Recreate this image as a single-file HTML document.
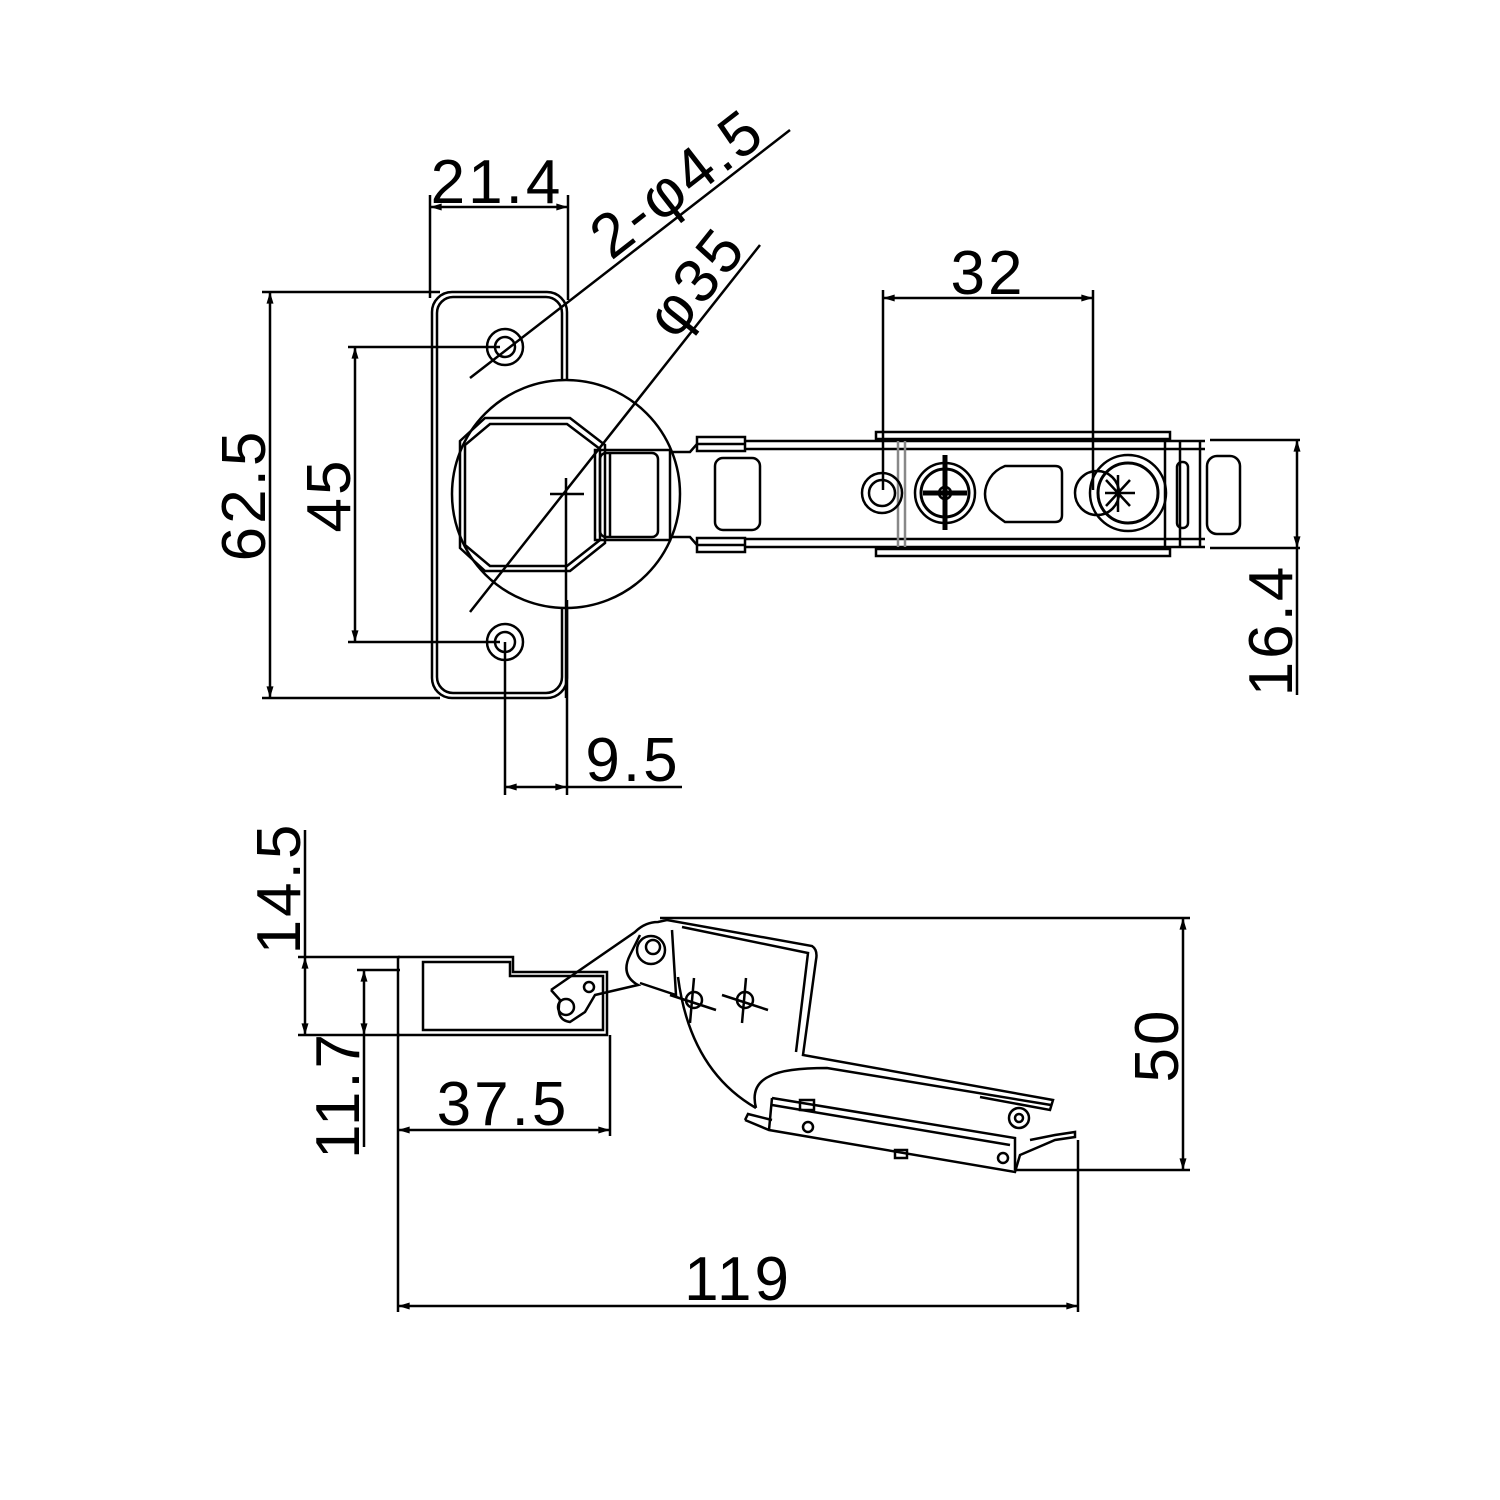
<!DOCTYPE html>
<html><head><meta charset="utf-8"><style>
html,body{margin:0;padding:0;background:#fff}
svg{display:block}
text{font-family:"Liberation Sans",sans-serif;font-size:62px;fill:#000;letter-spacing:3px}
</style></head><body>
<svg width="1500" height="1500" viewBox="0 0 1500 1500" xmlns="http://www.w3.org/2000/svg">
<defs>
<marker id="a" viewBox="0 0 10 6" refX="10" refY="3" markerWidth="14" markerHeight="7" markerUnits="userSpaceOnUse" orient="auto-start-reverse"><path d="M0,0L10,3L0,6z" fill="#000"/></marker>
</defs>
<g fill="none" stroke="#000" stroke-width="2.5">
<!-- plate -->
<rect x="432" y="292" width="135" height="406" rx="20"/>
<rect x="437" y="297" width="125" height="396" rx="16"/>
<circle cx="505" cy="347" r="18"/><circle cx="505" cy="347" r="10"/>
<circle cx="505" cy="642" r="18"/><circle cx="505" cy="642" r="10"/>
<!-- cup -->
<circle cx="566" cy="494" r="114" fill="#fff"/>
<polygon points="485,418 570,418 605,445 605,543 570,571 485,571 460,548 460,441"/>
<polygon points="490,424 567,424 600,449 600,540 567,566 490,566 465,545 465,445"/>
<line x1="566" y1="478" x2="566" y2="698"/><line x1="550" y1="494" x2="584" y2="494"/>
<!-- bracket -->
<rect x="595" y="450" width="75" height="90"/>
<rect x="600" y="453" width="58" height="84" rx="6"/>
<line x1="610" y1="453" x2="610" y2="537"/>
<path d="M670 452 L690 452 L697 444 L745 444 M670 537 L690 537 L697 545 L745 545"/>
<rect x="697" y="437" width="48" height="14"/><rect x="697" y="538" width="48" height="14"/>
<rect x="715" y="458" width="45" height="72" rx="8"/>
<!-- arm -->
<line x1="745" y1="441" x2="1205" y2="441"/><line x1="745" y1="547" x2="1205" y2="547"/>
<line x1="745" y1="449" x2="1205" y2="449"/><line x1="745" y1="539" x2="1205" y2="539"/>
<rect x="876" y="432" width="294" height="7" stroke-width="2.5"/>
<rect x="876" y="549" width="294" height="7" stroke-width="2.5"/>
<line x1="898" y1="441" x2="898" y2="547" stroke="#888"/><line x1="905" y1="441" x2="905" y2="547" stroke="#888"/>
<line x1="1165" y1="441" x2="1165" y2="547"/><line x1="1180" y1="441" x2="1180" y2="547"/><line x1="1200" y1="441" x2="1200" y2="547"/>
<path d="M1210 440 L1300 440 M1210 548 L1300 548"/>
<rect x="1207" y="456" width="33" height="78" rx="10"/>
<circle cx="882" cy="493" r="20"/><circle cx="882" cy="493" r="13"/>
<circle cx="945" cy="493" r="30"/><circle cx="945" cy="493" r="24" stroke-width="3"/><circle cx="945" cy="493" r="6"/>
<line x1="945" y1="455" x2="945" y2="530" stroke-width="5"/><line x1="923" y1="493" x2="967" y2="493" stroke-width="5"/>
<path d="M1005 466 L1055 466 Q1062 466 1062 473 L1062 515 Q1062 522 1055 522 L1005 522 Q995 515 990 510 Q980 494 990 478 Q995 470 1005 466z"/>
<circle cx="1128" cy="493" r="38"/><circle cx="1128" cy="493" r="30" stroke-width="3"/><circle cx="1097" cy="493" r="22"/>
<path d="M1118 475 L1118 512 M1105 493 L1135 493 M1106 480 L1130 506 M1106 506 L1130 480"/>
<rect x="1177" y="462" width="11" height="66" rx="5"/>
<!-- top dims -->
<line x1="430" y1="195" x2="430" y2="298"/><line x1="568" y1="195" x2="568" y2="300"/>
<line x1="430" y1="207" x2="568" y2="207" marker-start="url(#a)" marker-end="url(#a)"/>
<line x1="262" y1="292" x2="440" y2="292"/><line x1="262" y1="698" x2="440" y2="698"/>
<line x1="270" y1="292" x2="270" y2="698" marker-start="url(#a)" marker-end="url(#a)"/>
<line x1="348" y1="347" x2="500" y2="347"/><line x1="348" y1="642" x2="500" y2="642"/>
<line x1="355" y1="347" x2="355" y2="642" marker-start="url(#a)" marker-end="url(#a)"/>
<line x1="505" y1="642" x2="505" y2="795"/><line x1="567" y1="600" x2="567" y2="795"/>
<line x1="505" y1="787" x2="567" y2="787" marker-start="url(#a)" marker-end="url(#a)"/>
<line x1="567" y1="787" x2="682" y2="787"/>
<line x1="470" y1="378" x2="790" y2="130"/>
<line x1="470" y1="612" x2="760" y2="245"/>
<line x1="883" y1="290" x2="883" y2="490"/><line x1="1093" y1="290" x2="1093" y2="490"/>
<line x1="883" y1="298" x2="1093" y2="298" marker-start="url(#a)" marker-end="url(#a)"/>
<line x1="1297" y1="440" x2="1297" y2="548" marker-start="url(#a)" marker-end="url(#a)"/>
<line x1="1297" y1="548" x2="1297" y2="695"/>
<!-- side view -->
<path d="M398 957 L513 957 L513 972 L607 972 L607 1035 L398 1035"/>
<path d="M423 962 L423 1030 L603 1030 L603 976 L510 976 L510 962 Z"/>
<path d="M551 990 L635 932 Q645 922 658 922 L667 920 L812 946 Q818 950 816 960 L803 1055 L1053 1100 L1050 1110 L980 1097"/>
<path d="M551 990 L560 1000 Q555 1020 570 1022 L585 1012 L595 995 L638 985 Q620 975 630 955 L640 935"/>
<circle cx="651" cy="950" r="14"/><circle cx="653" cy="947" r="7"/>
<circle cx="566" cy="1007" r="8"/><circle cx="589" cy="987" r="5"/>
<path d="M640 983 L676 995 L672 930"/>
<path d="M682 927 L808 953 L796 1052"/>
<path d="M678 977 Q690 1070 756 1108"/>
<circle cx="694" cy="1000" r="8"/><circle cx="745" cy="1000" r="8"/>
<path d="M670 995 L716 1010 M694 978 L690 1023 M722 995 L768 1010 M746 978 L742 1023"/>
<path d="M756 1108 Q750 1085 770 1076 Q785 1068 827 1068 L1051 1105"/>
<path d="M745 1120 L769 1130 L1015 1172 L1020 1155 L1055 1140 L1075 1137 L1075 1132 L1055 1135 L1030 1140"/>
<path d="M745 1120 L748 1114 L772 1120"/>
<path d="M772 1098 L1015 1138 L1015 1170 M772 1098 L769 1130"/>
<line x1="772" y1="1105" x2="1010" y2="1145"/>
<circle cx="1019" cy="1118" r="10"/><circle cx="1019" cy="1118" r="4"/>
<circle cx="808" cy="1127" r="5"/><circle cx="1003" cy="1158" r="5"/>
<rect x="800" y="1100" width="14" height="10"/><rect x="895" y="1150" width="12" height="8"/>
<!-- side dims -->
<line x1="298" y1="957" x2="400" y2="957"/><line x1="298" y1="1035" x2="400" y2="1035"/>
<line x1="305" y1="830" x2="305" y2="957"/>
<line x1="305" y1="957" x2="305" y2="1035" marker-start="url(#a)" marker-end="url(#a)"/>
<line x1="357" y1="970" x2="400" y2="970"/>
<line x1="364" y1="970" x2="364" y2="1035" marker-start="url(#a)" marker-end="url(#a)"/>
<line x1="364" y1="1035" x2="364" y2="1147"/>
<line x1="398" y1="957" x2="398" y2="1312"/><line x1="610" y1="1035" x2="610" y2="1136"/>
<line x1="398" y1="1130" x2="610" y2="1130" marker-start="url(#a)" marker-end="url(#a)"/>
<line x1="1078" y1="1140" x2="1078" y2="1312"/>
<line x1="398" y1="1306" x2="1078" y2="1306" marker-start="url(#a)" marker-end="url(#a)"/>
<line x1="660" y1="918" x2="1190" y2="918"/><line x1="1015" y1="1170" x2="1190" y2="1170"/>
<line x1="1183" y1="918" x2="1183" y2="1170" marker-start="url(#a)" marker-end="url(#a)"/>
</g>
<g>
<text x="497" y="203" text-anchor="middle">21.4</text>
<text transform="translate(265,495) rotate(-90)" text-anchor="middle">62.5</text>
<text transform="translate(350,495) rotate(-90)" text-anchor="middle">45</text>
<text x="633" y="781" text-anchor="middle">9.5</text>
<text transform="translate(690,200) rotate(-37.8)" text-anchor="middle">2-φ4.5</text>
<text transform="translate(712,295) rotate(-51.5)" text-anchor="middle">φ35</text>
<text x="988" y="294" text-anchor="middle">32</text>
<text transform="translate(1292,630) rotate(-90)" text-anchor="middle">16.4</text>
<text transform="translate(300,888) rotate(-90)" text-anchor="middle">14.5</text>
<text transform="translate(359,1095) rotate(-90)" text-anchor="middle">11.7</text>
<text x="503" y="1125" text-anchor="middle">37.5</text>
<text x="738" y="1300" text-anchor="middle">119</text>
<text transform="translate(1178,1045) rotate(-90)" text-anchor="middle">50</text>
</g>
</svg>
</body></html>
